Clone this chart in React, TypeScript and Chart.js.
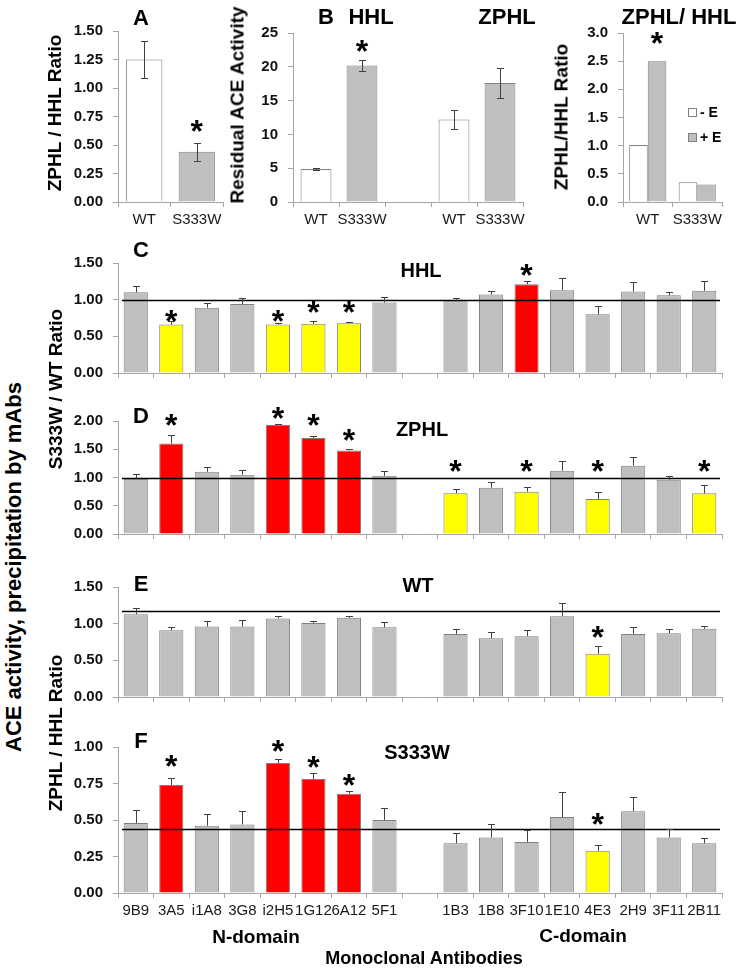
import React, { useEffect, useRef } from 'react';
import { Chart, registerables } from 'chart.js';

Chart.register(...registerables);

const FONT = '"Liberation Sans", Arial, Helvetica, sans-serif';

// ---------------- data ----------------
// Panel A: ZPHL / HHL ratio
const groupLabels = ['WT', 'S333W'];
const ratioA = [1.25, 0.44];
const ratioAErr = [0.16, 0.08];
const starA = [null, 0.68];

// Panel B: residual ACE activity (HHL pair, gap, ZPHL pair)
const labelsB = ['WT', 'S333W', '', 'WT', 'S333W'];
const activityB = [4.9, 20.2, null, 12.2, 17.6];
const activityBErr = [0.1, 0.75, null, 1.4, 2.15];
const starB = [null, 23.4, null, null, null];

// Panel B right: ZPHL/HHL ratio without / with enalaprilat
const minusE = [1.01, 0.35];
const plusE = [2.5, 0.31];
const starPlusE = [2.95, null];

// Panels C-F: monoclonal antibodies
const mAbs = ['9B9', '3A5', 'i1A8', '3G8', 'i2H5', '1G12', '6A12', '5F1', '', '1B3', '1B8', '3F10', '1E10', '4E3', '2H9', '3F11', '2B11'];

const hhlRatio = [1.10, 0.66, 0.89, 0.94, 0.66, 0.67, 0.68, 0.96, null, 0.98, 1.07, 1.21, 1.13, 0.80, 1.11, 1.06, 1.12];
const hhlErr = [0.09, 0.05, 0.07, 0.08, 0.02, 0.04, 0.02, 0.08, null, 0.04, 0.05, 0.04, 0.16, 0.12, 0.13, 0.05, 0.14];
const hhlSig = [0, -1, 0, 0, -1, -1, -1, 0, 0, 0, 0, 1, 0, 0, 0, 0, 0];
const hhlStar = [null, 0.81, null, null, 0.80, 0.92, 0.92, null, null, null, null, 1.43, null, null, null, null, null];
const hhlRef = 1.0;

const zphlRatio = [0.98, 1.60, 1.10, 1.05, 1.93, 1.70, 1.48, 1.03, null, 0.72, 0.82, 0.75, 1.12, 0.62, 1.21, 0.96, 0.72];
const zphlErr = [0.08, 0.16, 0.09, 0.09, 0.02, 0.04, 0.02, 0.08, null, 0.08, 0.10, 0.08, 0.17, 0.12, 0.15, 0.06, 0.14];
const zphlSig = [0, 1, 0, 0, 1, 1, 1, 0, 0, -1, 0, -1, 0, -1, 0, 0, -1];
const zphlStar = [null, 2.05, null, null, 2.18, 2.05, 1.78, null, null, 1.23, null, 1.23, null, 1.23, null, null, 1.23];
const zphlRef = 1.0;

const wtRatio = [1.13, 0.91, 0.96, 0.96, 1.07, 1.01, 1.08, 0.95, null, 0.86, 0.80, 0.83, 1.10, 0.59, 0.86, 0.87, 0.93];
const wtErr = [0.09, 0.05, 0.07, 0.09, 0.03, 0.03, 0.02, 0.07, null, 0.07, 0.09, 0.08, 0.18, 0.11, 0.10, 0.06, 0.04];
const wtSig = [0, 0, 0, 0, 0, 0, 0, 0, 0, 0, 0, 0, 0, -1, 0, 0, 0];
const wtStar = [null, null, null, null, null, null, null, null, null, null, null, null, null, 0.91, null, null, null];
const wtRef = 1.17;

const mutRatio = [0.48, 0.74, 0.46, 0.47, 0.89, 0.78, 0.68, 0.50, null, 0.34, 0.38, 0.35, 0.52, 0.29, 0.56, 0.38, 0.34];
const mutErr = [0.09, 0.05, 0.08, 0.09, 0.03, 0.04, 0.02, 0.08, null, 0.07, 0.09, 0.08, 0.17, 0.04, 0.10, 0.06, 0.04];
const mutSig = [0, 1, 0, 0, 1, 1, 1, 0, 0, 0, 0, 0, 0, -1, 0, 0, 0];
const mutStar = [null, 0.92, null, null, 1.02, 0.91, 0.79, null, null, null, null, null, null, 0.52, null, null, null];
const mutRef = 0.44;

// ---------------- styling helpers ----------------
const GRAY = '#bfbfbf';
const WHITE = '#ffffff';
const RED = '#ff0000';
const YELLOW = '#ffff00';
const AXIS = '#a6a6a6';
const BORDER = '#7f7f7f';

const sigColor = (s: number) => (s > 0 ? RED : s < 0 ? YELLOW : GRAY);
const groupColor = (l: string) => (l === 'WT' ? WHITE : GRAY);

type DS = { data: (number | null)[]; fill: string[]; err?: (number | null)[]; both?: boolean };
type Spec = {
  area: [number, number, number, number];
  labels: string[];
  datasets: DS[];
  yMax: number;
  yStep: number;
  dec: number;
  showX: boolean;
  catPct: number;
  ref?: number;
  stars?: { ds: number; at: (number | null)[] };
};

const STAR = 32;

function BarPanel({ spec }: { spec: Spec }) {
  const ref = useRef<HTMLCanvasElement>(null);
  const [l, t, r, b] = spec.area;
  const YW = 70;
  const PT = 16;
  const PR = 16;
  const XH = spec.showX ? 34 : 10;
  const w = r - l + YW + PR;
  const h = b - t + PT + XH;

  useEffect(() => {
    const extras = {
      id: 'extras',
      afterDatasetsDraw(chart: any) {
        const { ctx, chartArea } = chart;
        const y = chart.scales.y;
        ctx.save();
        if (spec.ref != null) {
          const py = Math.round(y.getPixelForValue(spec.ref)) + 0.5;
          ctx.strokeStyle = '#000';
          ctx.lineWidth = 1.6;
          ctx.beginPath();
          ctx.moveTo(chartArea.left + 4, py);
          ctx.lineTo(chartArea.right - 2, py);
          ctx.stroke();
        }
        spec.datasets.forEach((ds, i) => {
          if (!ds.err) return;
          const meta = chart.getDatasetMeta(i);
          ctx.strokeStyle = '#404040';
          ctx.lineWidth = 1;
          ctx.beginPath();
          meta.data.forEach((el: any, j: number) => {
            const v = ds.data[j];
            const e = ds.err![j];
            if (v == null || e == null) return;
            const x = Math.round(el.x) + 0.5;
            const top = Math.round(y.getPixelForValue(v + e)) + 0.5;
            const bot = ds.both ? Math.round(y.getPixelForValue(v - e)) + 0.5 : el.y;
            const cap = 3.5;
            ctx.moveTo(x, top);
            ctx.lineTo(x, bot);
            ctx.moveTo(x - cap, top);
            ctx.lineTo(x + cap, top);
            if (ds.both) {
              ctx.moveTo(x - cap, bot);
              ctx.lineTo(x + cap, bot);
            }
          });
          ctx.stroke();
        });
        if (spec.stars) {
          const meta = chart.getDatasetMeta(spec.stars.ds);
          ctx.fillStyle = '#000';
          ctx.font = `bold ${STAR}px ${FONT}`;
          ctx.textAlign = 'center';
          ctx.textBaseline = 'alphabetic';
          spec.stars.at.forEach((v, j) => {
            if (v == null) return;
            const el = meta.data[j];
            const x = el ? el.x : chart.scales.x.getPixelForValue(j);
            ctx.fillText('*', x, y.getPixelForValue(v) + 0.56 * STAR);
          });
        }
        ctx.restore();
      },
    };

    const chart = new Chart(ref.current as HTMLCanvasElement, {
      type: 'bar',
      data: {
        labels: spec.labels,
        datasets: spec.datasets.map((ds) => ({
          data: ds.data as any,
          backgroundColor: ds.fill,
          borderColor: BORDER,
          borderWidth: 1,
          categoryPercentage: spec.catPct,
          barPercentage: 1,
        })),
      },
      options: {
        responsive: false,
        animation: false,
        devicePixelRatio: 1,
        layout: { padding: { top: PT, right: PR, left: 0, bottom: 0 } },
        plugins: { legend: { display: false }, tooltip: { enabled: false }, title: { display: false } },
        scales: {
          x: {
            grid: { display: true, drawOnChartArea: false, drawTicks: true, tickLength: 5, color: AXIS, offset: true },
            border: { display: true, color: AXIS, width: 1 },
            ticks: {
              display: spec.showX,
              autoSkip: false,
              maxRotation: 0,
              minRotation: 0,
              padding: 4,
              color: '#1a1a1a',
              font: { family: FONT, size: 15 },
            },
            afterFit: (s: any) => {
              s.height = XH;
            },
          },
          y: {
            min: 0,
            max: spec.yMax,
            grid: { drawOnChartArea: false, drawTicks: true, tickLength: 5, color: AXIS },
            border: { display: true, color: AXIS, width: 1 },
            ticks: {
              stepSize: spec.yStep,
              padding: 10,
              color: '#111',
              font: { family: FONT, size: 15, weight: 'bold' },
              callback: (v: any) => Number(v).toFixed(spec.dec),
            },
            afterFit: (s: any) => {
              s.width = YW;
            },
          },
        },
      } as any,
      plugins: [extras as any],
    });
    return () => chart.destroy();
  }, []);

  return (
    <canvas
      ref={ref}
      width={w}
      height={h}
      style={{ position: 'absolute', left: l - YW, top: t - PT, width: w, height: h }}
    />
  );
}

function T({ x, y, size, bold = true, rot = false, color = '#000', children }: any) {
  return (
    <div
      style={{
        position: 'absolute',
        left: x,
        top: y,
        transform: `translate(-50%, -50%)${rot ? ' rotate(-90deg)' : ''}`,
        fontFamily: FONT,
        fontSize: size,
        fontWeight: bold ? 'bold' : 'normal',
        lineHeight: 1,
        whiteSpace: 'nowrap',
        color,
      }}
    >
      {children}
    </div>
  );
}

function LegendItem({ x, y, fill, label }: any) {
  return (
    <div style={{ position: 'absolute', left: x, top: y - 7, height: 14, display: 'flex', alignItems: 'center' }}>
      <div style={{ width: 7, height: 7, background: fill, border: `1px solid ${BORDER}` }} />
      <div style={{ marginLeft: 3, fontFamily: FONT, fontSize: 14, fontWeight: 'bold', lineHeight: 1, whiteSpace: 'nowrap' }}>{label}</div>
    </div>
  );
}

const specA: Spec = {
  area: [118, 28, 223, 202],
  labels: groupLabels,
  datasets: [{ data: ratioA, fill: groupLabels.map(groupColor), err: ratioAErr, both: true }],
  yMax: 1.5,
  yStep: 0.25,
  dec: 2,
  showX: true,
  catPct: 0.69,
  stars: { ds: 0, at: starA },
};

const specB: Spec = {
  area: [293, 30, 523, 202],
  labels: labelsB,
  datasets: [{ data: activityB, fill: labelsB.map(groupColor), err: activityBErr, both: true }],
  yMax: 25,
  yStep: 5,
  dec: 0,
  showX: true,
  catPct: 0.67,
  stars: { ds: 0, at: starB },
};

const specR: Spec = {
  area: [623, 30, 722, 202],
  labels: groupLabels,
  datasets: [
    { data: minusE, fill: groupLabels.map(() => WHITE) },
    { data: plusE, fill: groupLabels.map(() => GRAY) },
  ],
  yMax: 3,
  yStep: 0.5,
  dec: 1,
  showX: true,
  catPct: 0.75,
  stars: { ds: 1, at: starPlusE },
};

const mk = (
  area: [number, number, number, number],
  vals: (number | null)[],
  err: (number | null)[],
  sig: number[],
  star: (number | null)[],
  yMax: number,
  yStep: number,
  ref: number,
  showX: boolean
): Spec => ({
  area,
  labels: mAbs,
  datasets: [{ data: vals, fill: sig.map(sigColor), err }],
  yMax,
  yStep,
  dec: 2,
  showX,
  catPct: 0.68,
  ref,
  stars: { ds: 0, at: star },
});

const specC = mk([118, 260, 722, 382], hhlRatio, hhlErr, hhlSig, hhlStar, 1.5, 0.5, hhlRef, false);
const specD = mk([118, 418, 722, 543], zphlRatio, zphlErr, zphlSig, zphlStar, 2.0, 0.5, zphlRef, false);
const specE = mk([118, 584, 722, 706], wtRatio, wtErr, wtSig, wtStar, 1.5, 0.5, wtRef, false);
const specF = mk([118, 744, 722, 893], mutRatio, mutErr, mutSig, mutStar, 1.0, 0.25, mutRef, true);

export default function App() {
  return (
    <div style={{ position: 'absolute', left: 0, top: 0, width: 740, height: 969, background: '#fff', overflow: 'hidden' }}>
      <BarPanel spec={specA} />
      <BarPanel spec={specB} />
      <BarPanel spec={specR} />
      <BarPanel spec={specC} />
      <BarPanel spec={specD} />
      <BarPanel spec={specE} />
      <BarPanel spec={specF} />

      {/* panel letters and titles */}
      <T x={141} y={18} size={22}>A</T>
      <T x={326} y={17} size={22}>B</T>
      <T x={371} y={17} size={22}>HHL</T>
      <T x={507} y={17} size={22}>ZPHL</T>
      <T x={679} y={17} size={22}>ZPHL/ HHL</T>
      <T x={141} y={250} size={22}>C</T>
      <T x={141} y={416} size={22}>D</T>
      <T x={141} y={584} size={22}>E</T>
      <T x={141} y={741} size={22}>F</T>
      <T x={421} y={270} size={20}>HHL</T>
      <T x={422} y={429} size={20}>ZPHL</T>
      <T x={418} y={585} size={20}>WT</T>
      <T x={417} y={752} size={20}>S333W</T>

      {/* axis titles */}
      <T x={54} y={113} size={19} rot>ZPHL / HHL Ratio</T>
      <T x={237} y={105} size={19} rot>Residual ACE Activity</T>
      <T x={561} y={117} size={19} rot>ZPHL/HHL Ratio</T>
      <T x={55} y={389} size={19} rot>S333W / WT Ratio</T>
      <T x={55} y={733} size={19} rot>ZPHL / HHL Ratio</T>
      <T x={14} y={567} size={22} rot>ACE activity, precipitation by mAbs</T>

      <T x={256} y={936} size={19}>N-domain</T>
      <T x={583} y={935} size={19}>C-domain</T>
      <T x={424} y={958} size={18}>Monoclonal Antibodies</T>

      <LegendItem x={688} y={112} fill={WHITE} label="- E" />
      <LegendItem x={688} y={137} fill={GRAY} label="+ E" />
    </div>
  );
}
